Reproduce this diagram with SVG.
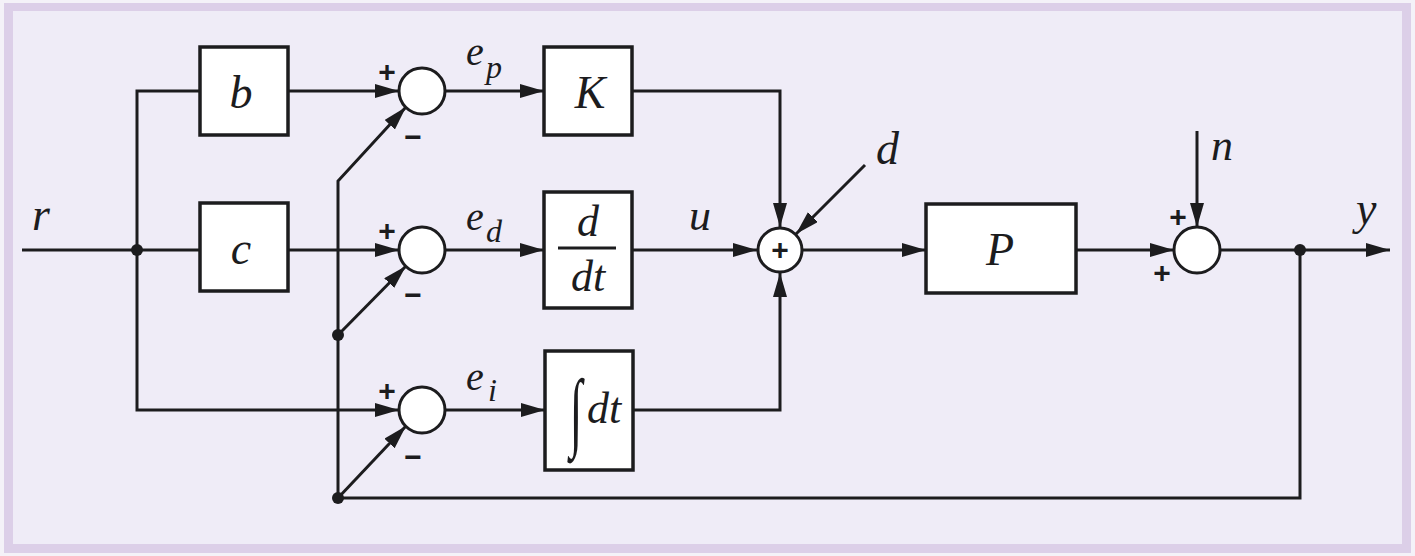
<svg xmlns="http://www.w3.org/2000/svg" width="1415" height="556" viewBox="0 0 1415 556">
<style>
.ln{fill:none;stroke:#1c1c1e;stroke-width:3}
.bx{fill:#ffffff;stroke:#1c1c1e;stroke-width:3.5}
.sj{fill:#ffffff;stroke:#1c1c1e;stroke-width:3}
.m{font-family:'Liberation Serif','DejaVu Serif',serif;font-style:italic;fill:#1c1c1e}
.s{font-family:'Liberation Sans','DejaVu Sans',sans-serif;font-weight:bold;fill:#1c1c1e;font-size:30px;text-anchor:middle}
.dot{fill:#1c1c1e}
</style>
<defs>
<marker id="ah" markerUnits="userSpaceOnUse" markerWidth="26" markerHeight="16" refX="24" refY="7" orient="auto">
<path d="M0,0 L24,7 L0,14 Z" fill="#1c1c1e"/>
</marker>
</defs>
<rect x="0" y="0" width="1415" height="556" fill="#f4f2f8"/>
<rect x="4" y="3" width="1407" height="550" fill="#dccfe8"/>
<rect x="13" y="11" width="1389" height="533" fill="#efecf7"/>

<g id="connectors">
<path class="ln" d="M22,250 H200"/>
<path class="ln" d="M200,91 H137 V410 H399" marker-end="url(#ah)"/>
<path class="ln" d="M288,91 H399" marker-end="url(#ah)"/>
<path class="ln" d="M288,250 H399" marker-end="url(#ah)"/>
<path class="ln" d="M445,91 H544" marker-end="url(#ah)"/>
<path class="ln" d="M445,250 H544" marker-end="url(#ah)"/>
<path class="ln" d="M445,410 H545" marker-end="url(#ah)"/>
<path class="ln" d="M632,91 H780 V227" marker-end="url(#ah)"/>
<path class="ln" d="M632,250 H757" marker-end="url(#ah)"/>
<path class="ln" d="M633,410 H780 V273" marker-end="url(#ah)"/>
<path class="ln" d="M865,165 L796,234" marker-end="url(#ah)"/>
<path class="ln" d="M802,250 H926" marker-end="url(#ah)"/>
<path class="ln" d="M1076,250 H1174" marker-end="url(#ah)"/>
<path class="ln" d="M1197,131 V227" marker-end="url(#ah)"/>
<path class="ln" d="M1220,250 H1390" marker-end="url(#ah)"/>
<path class="ln" d="M1300,250 V498 H338 V181 L406,107" marker-end="url(#ah)"/>
<path class="ln" d="M338,335 L406,266" marker-end="url(#ah)"/>
<path class="ln" d="M338,498 L406,426" marker-end="url(#ah)"/>
<circle class="dot" cx="137" cy="250" r="6"/>
<circle class="dot" cx="338" cy="335" r="6"/>
<circle class="dot" cx="338" cy="498" r="6"/>
<circle class="dot" cx="1300" cy="250" r="6"/>
</g>

<g id="label-r"><text class="m" x="32" y="230" font-size="46">r</text></g>

<g id="block-b">
<rect class="bx" x="200" y="47" width="88" height="88"/>
<text class="m" x="241" y="108" font-size="46" text-anchor="middle">b</text>
</g>
<g id="block-c">
<rect class="bx" x="200" y="203" width="88" height="88"/>
<text class="m" x="241" y="264" font-size="46" text-anchor="middle">c</text>
</g>

<g id="sum-p">
<circle class="sj" cx="422" cy="91" r="23"/>
<text class="s" x="387" y="82">+</text>
<text class="s" x="413" y="147">−</text>
</g>
<g id="sum-d">
<circle class="sj" cx="422" cy="250" r="23"/>
<text class="s" x="387" y="241">+</text>
<text class="s" x="413" y="305">−</text>
</g>
<g id="sum-i">
<circle class="sj" cx="422" cy="410" r="23"/>
<text class="s" x="387" y="401">+</text>
<text class="s" x="413" y="467">−</text>
</g>

<g id="label-ep"><text class="m" x="466" y="65" font-size="40">e</text><text class="m" x="486" y="78" font-size="32">p</text></g>
<g id="label-ed"><text class="m" x="466" y="230" font-size="40">e</text><text class="m" x="486" y="242" font-size="32">d</text></g>
<g id="label-ei"><text class="m" x="466" y="390" font-size="40">e</text><text class="m" x="488" y="401" font-size="32">i</text></g>

<g id="block-K">
<rect class="bx" x="544" y="47" width="88" height="88"/>
<text class="m" x="590" y="108" font-size="46" text-anchor="middle">K</text>
</g>
<g id="block-deriv">
<rect class="bx" x="544" y="192" width="88" height="116"/>
<text class="m" x="588" y="236" font-size="44" text-anchor="middle">d</text>
<line x1="558" y1="248" x2="616" y2="248" stroke="#1c1c1e" stroke-width="3"/>
<text class="m" x="588" y="291" font-size="44" text-anchor="middle">dt</text>
</g>
<g id="block-integral">
<rect class="bx" x="545" y="351" width="88" height="119"/>
<text class="m" x="576" y="0" font-size="46" text-anchor="middle" transform="translate(0,440) scale(1,1.9)">∫</text>
<text class="m" x="587" y="423" font-size="44">dt</text>
</g>

<g id="label-u"><text class="m" x="689" y="230" font-size="44">u</text></g>

<g id="sum-main">
<circle class="sj" cx="780" cy="250" r="22"/>
<text class="s" x="780" y="260">+</text>
</g>
<g id="label-d"><text class="m" x="876" y="164" font-size="46">d</text></g>

<g id="block-P">
<rect class="bx" x="926" y="204" width="150" height="89"/>
<text class="m" x="1000" y="265" font-size="46" text-anchor="middle">P</text>
</g>

<g id="sum-out">
<circle class="sj" cx="1197" cy="250" r="23"/>
<text class="s" x="1178" y="227">+</text>
<text class="s" x="1162" y="283">+</text>
</g>
<g id="label-n"><text class="m" x="1211" y="160" font-size="44">n</text></g>
<g id="label-y"><text class="m" x="1356" y="224" font-size="46">y</text></g>
</svg>
